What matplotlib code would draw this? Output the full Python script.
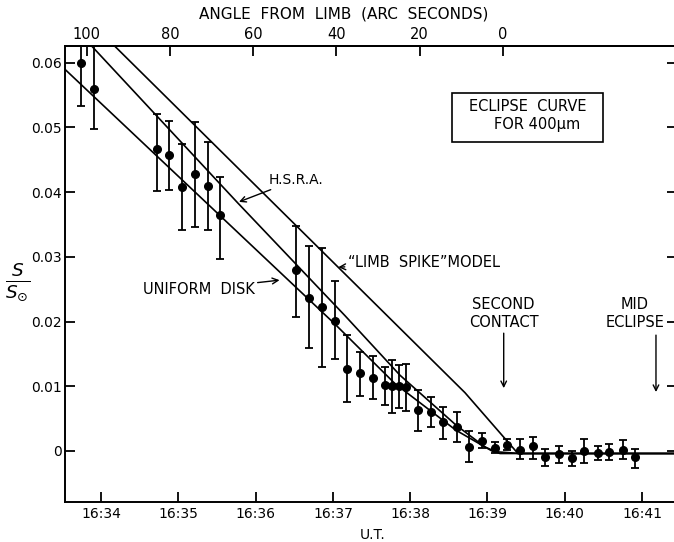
import matplotlib
matplotlib.use("Agg")
import matplotlib.pyplot as plt
from matplotlib.patches import Rectangle

plt.rcParams["font.family"] = ["DejaVu Sans"]
plt.rcParams["mathtext.fontset"] = "dejavusans"

# observed 400 um eclipse points: time in minutes after 16:00 UT, S/S0, bar top / bottom
obs_t = [33.737, 33.903, 34.721, 34.886, 35.044, 35.212, 35.378, 35.533,
         36.519, 36.691, 36.855, 37.027, 37.186, 37.351, 37.519, 37.674,
         37.761, 37.855, 37.946, 38.101, 38.265, 38.428, 38.602, 38.761,
         38.933, 39.097, 39.256, 39.420, 39.593, 39.744, 39.925, 40.089,
         40.252, 40.426, 40.576, 40.749, 40.908]
obs_v = [0.0600, 0.0559, 0.0466, 0.0457, 0.0408, 0.0428, 0.0410, 0.0364,
         0.0280, 0.0237, 0.0222, 0.0201, 0.0126, 0.0120, 0.0112, 0.0102,
         0.0101, 0.0101, 0.0099, 0.0063, 0.0060, 0.0044, 0.0037, 0.0006,
         0.0016, 0.0004, 0.0009, 0.0002, 0.0007, -0.0010, -0.0005, -0.0011,
         0.0000, -0.0004, -0.0001, 0.0002, -0.0010]
obs_hi = [0.0671, 0.0626, 0.0521, 0.0510, 0.0474, 0.0509, 0.0478, 0.0423,
          0.0347, 0.0317, 0.0314, 0.0263, 0.0179, 0.0153, 0.0146, 0.0130,
          0.0141, 0.0133, 0.0135, 0.0094, 0.0084, 0.0068, 0.0060, 0.0030,
          0.0027, 0.0014, 0.0019, 0.0019, 0.0022, 0.0003, 0.0007, 0.0000,
          0.0019, 0.0008, 0.0011, 0.0017, 0.0003]
obs_lo = [0.0533, 0.0498, 0.0402, 0.0403, 0.0342, 0.0346, 0.0342, 0.0297,
          0.0207, 0.0159, 0.0129, 0.0142, 0.0076, 0.0085, 0.0080, 0.0071,
          0.0059, 0.0066, 0.0062, 0.0030, 0.0037, 0.0019, 0.0013, -0.0017,
          0.0004, -0.0003, 0.0002, -0.0013, -0.0012, -0.0024, -0.0018, -0.0023,
          -0.0019, -0.0014, -0.0014, -0.0013, -0.0027]

# model curves
disk_t = [33.40, 37.027, 37.803, 38.592, 39.071, 39.420, 41.60]
disk_v = [0.0605, 0.0196, 0.0104, 0.0032, -0.0001, -0.0004, -0.0004]
hsra_t = [33.832, 35.772, 37.157, 37.868, 38.592, 38.968, 39.162, 41.60]
hsra_v = [0.0632, 0.0383, 0.0209, 0.0117, 0.0040, 0.0006, -0.0004, -0.0004]
spike_t = [34.142, 38.709, 39.394, 41.60]
spike_v = [0.0630, 0.0090, -0.0004, -0.0004]

ut_ticks = [34, 35, 36, 37, 38, 39, 40, 41]
ut_labels = ["16:%d" % m for m in ut_ticks]
s_ticks = [0, 0.01, 0.02, 0.03, 0.04, 0.05, 0.06]
s_labels = ["0", "0.01", "0.02", "0.03", "0.04", "0.05", "0.06"]
angle_ticks = [100, 80, 60, 40, 20, 0]

CONTACT_T = 39.197      # second contact (angle 0)
ARCSEC_PER_MIN = 18.59

fig = plt.figure(figsize=(6.74, 5.42), dpi=100)
# right spine sits just past the crop, as in the scan
ax = fig.add_axes([65 / 674, 40 / 542, 612 / 674, 456 / 542])

for t, v in ((disk_t, disk_v), (hsra_t, hsra_v), (spike_t, spike_v)):
    ax.plot(t, v, color="black", lw=1.2, solid_joinstyle="miter")

yerr = [[v - lo for v, lo in zip(obs_v, obs_lo)],
        [hi - v for v, hi in zip(obs_v, obs_hi)]]
ax.errorbar(obs_t, obs_v, yerr=yerr, fmt="o", color="black", ms=5.5,
            elinewidth=1.3, capsize=2.8, capthick=1.3)

ax.set_xlim(33.534, 41.452)
ax.set_ylim(-0.0079, 0.0626)
ax.set_xticks(ut_ticks)
ax.set_xticklabels(ut_labels)
ax.set_yticks(s_ticks)
ax.set_yticklabels(s_labels)
ax.tick_params(axis="both", direction="in", length=7, width=1.3, labelsize=10,
               right=True)
ax.tick_params(axis="x", pad=3.5)
ax.tick_params(axis="y", pad=2)
for sp in ax.spines.values():
    sp.set_linewidth(1.4)

sec = ax.secondary_xaxis("top", functions=(
    lambda t: (CONTACT_T - t) * ARCSEC_PER_MIN,
    lambda a: CONTACT_T - a / ARCSEC_PER_MIN))
sec.set_xticks(angle_ticks)
sec.tick_params(direction="in", length=7, width=1.3, labelsize=10.5, pad=3)
sec.spines["top"].set_linewidth(1.4)

fig.text(344 / 674, 1 - 14 / 542, "ANGLE  FROM  LIMB  (ARC  SECONDS)",
         ha="center", va="center", fontsize=11)
fig.text(373 / 674, 1 - 535 / 542, "U.T.", ha="center", va="center", fontsize=10)
fig.text(18 / 674, 1 - 282 / 542, r"$\frac{S}{S_{\odot}}$", ha="center",
         va="center", fontsize=19)

arrow = dict(arrowstyle="->", color="black", lw=1.0, shrinkA=0, shrinkB=0)
ax.annotate("H.S.R.A.", xy=(35.785, 0.0385), xytext=(36.17, 0.0419),
            ha="left", va="center", fontsize=10, arrowprops=arrow)
ax.annotate("“LIMB  SPIKE”MODEL", xy=(37.07, 0.0284), xytext=(37.19, 0.0291),
            ha="left", va="center", fontsize=10.5, arrowprops=arrow)
ax.annotate("UNIFORM  DISK", xy=(36.31, 0.0264), xytext=(35.99, 0.0250),
            ha="right", va="center", fontsize=10.5, arrowprops=arrow)

ax.annotate("", xy=(39.21, 0.0097), xytext=(39.21, 0.0182), arrowprops=arrow)
ax.text(39.21, 0.0226, "SECOND", ha="center", va="center", fontsize=10.5)
ax.text(39.21, 0.0198, "CONTACT", ha="center", va="center", fontsize=10.5)
ax.annotate("", xy=(41.18, 0.0091), xytext=(41.18, 0.0179), arrowprops=arrow)
ax.text(40.906, 0.0226, "MID", ha="center", va="center", fontsize=10.5)
ax.text(40.906, 0.0198, "ECLIPSE", ha="center", va="center", fontsize=10.5)

box = Rectangle((452 / 674, 1 - 141.7 / 542), 151 / 674, 49 / 542,
                transform=fig.transFigure, fill=False, ec="black", lw=1.2)
fig.add_artist(box)
fig.text(528 / 674, 1 - 106.7 / 542, "ECLIPSE  CURVE", ha="center",
         va="center", fontsize=10.5)
fig.text(537 / 674, 1 - 124 / 542, "FOR 400μm", ha="center", va="center",
         fontsize=10.5)

fig.savefig("out.png", dpi=100)
